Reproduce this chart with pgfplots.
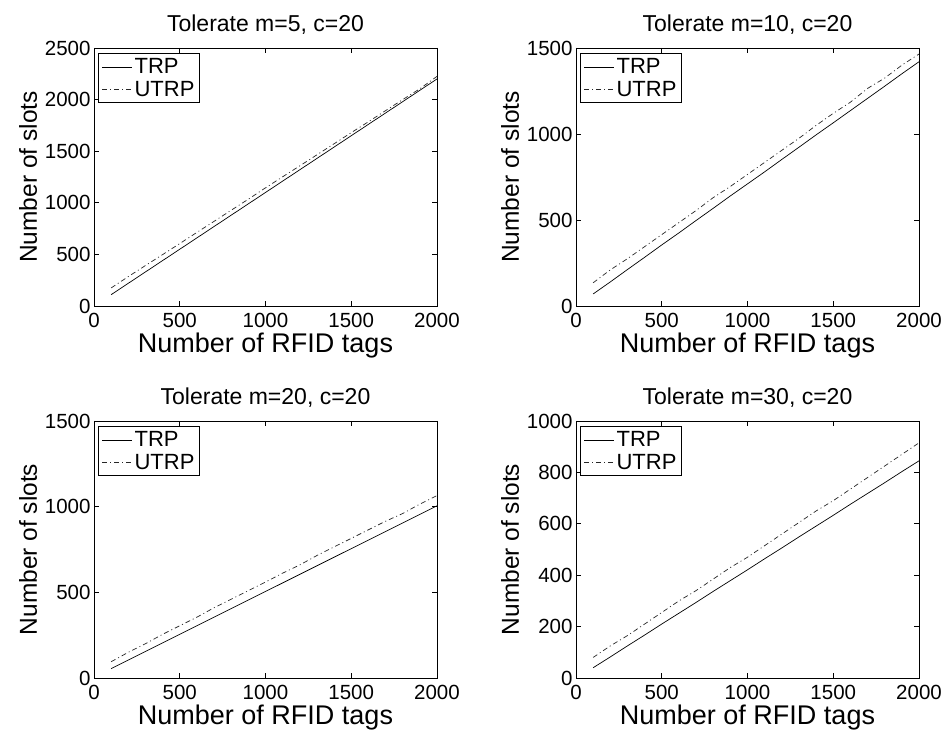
\documentclass[border=0pt]{standalone}
\usepackage{fontspec}
\setmainfont{Liberation Sans}
\usepackage{pgfplots}
\pgfplotsset{compat=1.18}

\pgfplotstableread{
x trp utrp
100 110 175
200 220 285
300 330 392
400 440 498
500 550 605
600 660 713
700 770 820
800 880 928
900 990 1035
1000 1100 1145
1100 1210 1252
1200 1320 1358
1300 1430 1465
1400 1540 1572
1500 1650 1680
1600 1760 1785
1700 1870 1893
1800 1980 2000
1900 2090 2105
2000 2200 2225
}\tA
\pgfplotstableread{
x trp utrp
100 70 135
200 140 210
300 212 275
400 283 345
500 355 415
600 425 485
700 497 555
800 568 630
900 640 695
1000 710 765
1100 780 835
1200 852 905
1300 923 975
1400 995 1050
1500 1065 1120
1600 1136 1185
1700 1207 1265
1800 1278 1325
1900 1350 1400
2000 1420 1465
}\tB
\pgfplotstableread{
x trp utrp
100 55 95
200 105 150
300 155 200
400 205 255
500 255 305
600 305 355
700 355 410
800 405 460
900 455 510
1000 505 560
1100 555 612
1200 605 660
1300 655 715
1400 705 765
1500 755 815
1600 805 865
1700 855 915
1800 905 960
1900 955 1015
2000 1005 1065
}\tC
\pgfplotstableread{
x trp utrp
100 40 80
200 82 125
300 125 165
400 167 210
500 210 255
600 252 300
700 294 340
800 337 385
900 379 430
1000 421 470
1100 464 515
1200 506 560
1300 549 605
1400 591 650
1500 633 690
1600 676 735
1700 718 780
1800 760 825
1900 803 870
2000 845 915
}\tD

\pgfplotsset{panel/.style={
  scale only axis, width=343pt, height=258pt,
  xmin=0, xmax=2000, ymin=0,
  xtick={0,500,1000,1500,2000},
  tick align=inside, major tick length=5pt,
  tick style={black, line width=0.6pt},
  axis line style={black, line width=0.8pt},
  ticklabel style={font=\fontsize{20.5}{24}\selectfont},
  xticklabel style={yshift=-4pt},
  xlabel style={font=\fontsize{27}{29}\selectfont, yshift=2pt},
  ylabel style={font=\fontsize{24.5}{28}\selectfont, yshift=1pt},
  title style={font=\fontsize{23}{28}\selectfont, yshift=4pt},
  xlabel={Number of RFID tags}, ylabel={Number of slots},
  /pgf/number format/assume math mode=true,
  /pgf/number format/set thousands separator={},
  scaled ticks=false,
  legend style={at={(0.013,0.98)}, anchor=north west,
    font=\fontsize{22}{24}\selectfont, draw=black, line width=0.8pt,
    inner sep=3pt, row sep=2pt, cells={anchor=west}},
  legend image code/.code={\draw[##1] (0pt,0pt) -- (30pt,0pt);},
}}
\tikzset{trp/.style={black, line width=0.7pt},
  utrp/.style={black!85, line width=0.7pt, dash pattern=on 5pt off 3pt on 1pt off 3pt}}

\begin{document}
\begin{tikzpicture}
\path[use as bounding box] (0pt,0pt) rectangle (947pt,736pt);
\begin{axis}[panel, at={(94pt,430pt)}, anchor=south west, ymax=2500,
  title={Tolerate m=5, c=20}]
\addplot[trp] table[x=x,y=trp]{\tA};
\addplot[utrp] table[x=x,y=utrp]{\tA};
\legend{TRP,UTRP}
\end{axis}
\begin{axis}[panel, at={(576pt,430pt)}, anchor=south west, ymax=1500,
  ytick={0,500,1000,1500}, title={Tolerate m=10, c=20}]
\addplot[trp] table[x=x,y=trp]{\tB};
\addplot[utrp] table[x=x,y=utrp]{\tB};
\legend{TRP,UTRP}
\end{axis}
\begin{axis}[panel, at={(94pt,58pt)}, anchor=south west, ymax=1500, height=257pt,
  ytick={0,500,1000,1500}, title={Tolerate m=20, c=20}]
\addplot[trp] table[x=x,y=trp]{\tC};
\addplot[utrp] table[x=x,y=utrp]{\tC};
\legend{TRP,UTRP}
\end{axis}
\begin{axis}[panel, at={(576pt,58pt)}, anchor=south west, ymax=1000, height=257pt,
  ytick={0,200,400,600,800,1000}, title={Tolerate m=30, c=20}]
\addplot[trp] table[x=x,y=trp]{\tD};
\addplot[utrp] table[x=x,y=utrp]{\tD};
\legend{TRP,UTRP}
\end{axis}
\end{tikzpicture}
\end{document}
